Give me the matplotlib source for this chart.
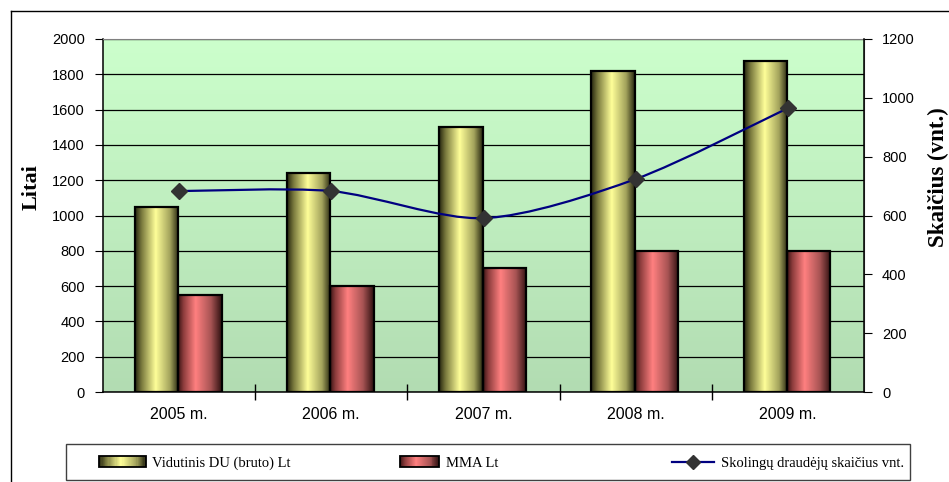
import numpy as np
import matplotlib.pyplot as plt
from matplotlib.colors import LinearSegmentedColormap
from matplotlib.path import Path
from matplotlib.patches import PathPatch, Rectangle
from matplotlib.lines import Line2D
from matplotlib.legend_handler import HandlerBase

years = ["2005 m.", "2006 m.", "2007 m.", "2008 m.", "2009 m."]
avg_wage = [1050, 1240, 1500, 1820, 1875]     # Vidutinis DU (bruto) Lt
min_wage = [550, 600, 700, 800, 800]          # MMA Lt
debtors = [683, 683, 591, 724, 965]           # skolingi draudėjai, vnt.

plt.rcParams['font.family'] = ['Liberation Sans', 'DejaVu Sans']

yellow_cmap = LinearSegmentedColormap.from_list(
    "cyl_yellow", [(0.0, "#26260f"), (0.15, "#7a7a3e"), (0.47, "#ffff99"),
                   (0.8, "#a3a35c"), (1.0, "#26260f")])
red_cmap = LinearSegmentedColormap.from_list(
    "cyl_red", [(0.0, "#3a1414"), (0.12, "#8c3c3c"), (0.4, "#ff8080"),
                (0.75, "#a85454"), (1.0, "#2e1010")])
bg_cmap = LinearSegmentedColormap.from_list("bg", ["#b2dcb2", "#ccffcc"])

fig = plt.figure(figsize=(9.49, 4.82), dpi=100)
ax = fig.add_axes([103 / 949, 1 - 392 / 482, (864 - 103) / 949, (392 - 39) / 482])

# green vertical gradient behind the plot
ax.patch.set_visible(False)
ax.imshow(np.linspace(0, 1, 256)[:, None], cmap=bg_cmap, origin="lower",
          extent=(0, 1, 0, 1), transform=ax.transAxes, aspect="auto", zorder=0)

x = np.arange(len(years))
w = 0.285
grad = np.linspace(0, 1, 128)[None, :]


def cylinder_bars(xpos, values, cmap):
    bars = ax.bar(xpos, values, w, facecolor="none", edgecolor="black",
                  linewidth=1.6, zorder=3)
    for b in bars:
        x0, y0 = b.get_x(), b.get_y()
        im = ax.imshow(grad, cmap=cmap, aspect="auto", zorder=2,
                       extent=(x0, x0 + b.get_width(), y0, y0 + b.get_height()))
        im.set_clip_path(b)
    return bars


cylinder_bars(x - 0.148, avg_wage, yellow_cmap)
cylinder_bars(x + 0.137, min_wage, red_cmap)

ax.set_xlim(-0.5, len(years) - 0.5)
ax.set_ylim(0, 2000)
ax.set_yticks(np.arange(0, 2001, 200))
ax.yaxis.grid(True, color="black", linewidth=0.9)
ax.set_axisbelow(True)
ax.set_xticks(x)
ax.set_xticklabels(years)
ax.set_xticks(np.arange(0.5, len(years) - 1, 1), minor=True)
ax.tick_params(axis="x", which="major", length=0, pad=11, labelsize=11.5)
ax.tick_params(axis="x", which="minor", direction="inout", length=11, width=1)
ax.tick_params(axis="y", direction="out", length=6, pad=7, labelsize=10.5)
ax.spines["top"].set_color("#808080")
ax.spines["right"].set_color("#606060")
for s in ("left", "bottom"):
    ax.spines[s].set_linewidth(1.1)

# secondary axis: smoothed line through the yearly counts
ax2 = ax.twinx()
ax2.set_ylim(0, 1200)
ax2.set_yticks(np.arange(0, 1201, 200))
ax2.tick_params(axis="y", direction="out", length=6, pad=7, labelsize=10.5)
ax2.spines["right"].set_linewidth(1.1)
for s in ("top", "left", "bottom"):
    ax2.spines[s].set_visible(False)

pts = np.column_stack([x, debtors]).astype(float)
ext = np.vstack([pts[:1], pts, pts[-1:]])
verts = [tuple(pts[0])]
codes = [Path.MOVETO]
for i in range(len(pts) - 1):
    p0, p1, p2, p3 = ext[i], ext[i + 1], ext[i + 2], ext[i + 3]
    verts += [tuple(p1 + (p2 - p0) / 7), tuple(p2 - (p3 - p1) / 7), tuple(p2)]
    codes += [Path.CURVE4] * 3
ax2.add_patch(PathPatch(Path(verts, codes), facecolor="none",
                        edgecolor="#000080", linewidth=1.6, zorder=3))
ax2.plot(x, debtors, linestyle="none", marker="D", markersize=8,
         color="#333333", zorder=4)

fig.text(32 / 949, 1 - 187 / 482, "Litai", rotation=90, ha="center",
         va="center", fontsize=16, fontweight="bold", family="Liberation Serif")
fig.text(938 / 949, 1 - 177 / 482, "Skaičius (vnt.)", rotation=90,
         ha="center", va="center", fontsize=16.5, fontweight="bold",
         family="Liberation Serif")


class GradientHandler(HandlerBase):
    def __init__(self, cmap):
        super().__init__()
        self.cmap = cmap

    def create_artists(self, legend, orig_handle, xdescent, ydescent,
                       width, height, fontsize, trans):
        n = 40
        arts = []
        for i in range(n):
            arts.append(Rectangle((-xdescent + width * i / n, -ydescent),
                                  width / n * 1.1, height,
                                  facecolor=self.cmap((i + 0.5) / n),
                                  edgecolor="none", transform=trans))
        arts.append(Rectangle((-xdescent, -ydescent), width, height,
                              facecolor="none", edgecolor="black",
                              linewidth=1.3, transform=trans))
        return arts


yellow_h = Rectangle((0, 0), 1, 1)
red_h = Rectangle((0, 0), 1, 1)
line_h = Line2D([], [], color="#000080", linewidth=1.6, marker="D",
                markersize=7, markerfacecolor="#333333",
                markeredgecolor="#333333")

leg_y = 1 - 463 / 482
legend_font = {"family": "Liberation Serif", "size": 10.5}
entries = [
    (yellow_h, "Vidutinis DU (bruto) Lt", 99, 3.2, GradientHandler(yellow_cmap)),
    (red_h, "MMA Lt", 400, 2.7, GradientHandler(red_cmap)),
    (line_h, "Skolingų draudėjų skaičius vnt.", 672, 2.9, None),
]
for handle, label, px, hlen, handler in entries:
    kw = {"handler_map": {handle: handler}} if handler else {}
    fig.legend([handle], [label], loc="center left",
               bbox_to_anchor=(px / 949, leg_y), frameon=False,
               borderpad=0, borderaxespad=0, handlelength=hlen,
               handleheight=0.8, handletextpad=0.45, prop=legend_font,
               numpoints=1, **kw)

# legend frame and outer chart border
fig.add_artist(Rectangle((66 / 949, 1 - 480 / 482), 844 / 949, 36 / 482,
                         transform=fig.transFigure, facecolor="none",
                         edgecolor="#404040", linewidth=1))
fig.add_artist(Line2D([10.5 / 949, 10.5 / 949], [0, 1 - 10.5 / 482],
                      transform=fig.transFigure, color="black", linewidth=1))
fig.add_artist(Line2D([10.5 / 949, 1], [1 - 10.5 / 482, 1 - 10.5 / 482],
                      transform=fig.transFigure, color="black", linewidth=1))

fig.savefig("out.png", dpi=100)
